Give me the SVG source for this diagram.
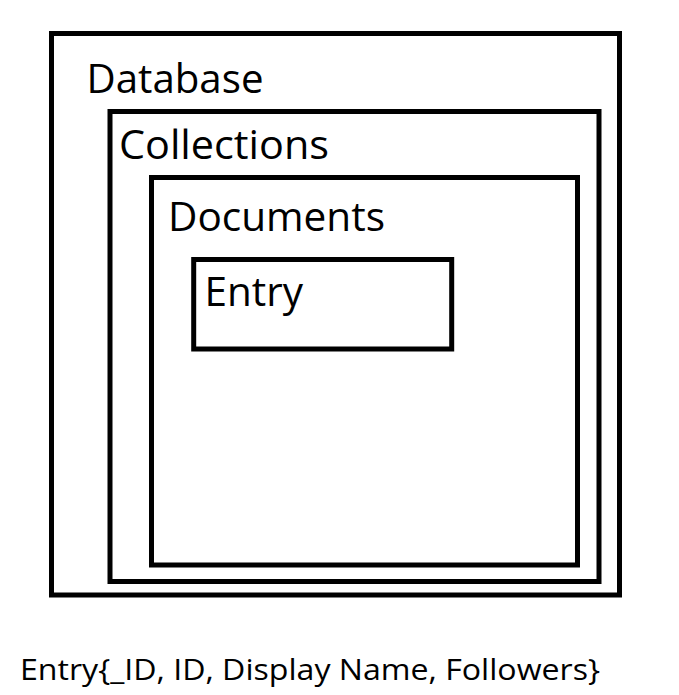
<svg xmlns="http://www.w3.org/2000/svg" width="679" height="695" viewBox="0 0 679 695">
<style>
.box{fill:none;stroke:#000;stroke-width:5}
.lbl{font-family:"Open Sans","Noto Sans","Liberation Sans",sans-serif;font-size:40px;fill:#000}
.note{font-family:"Open Sans","Noto Sans","Liberation Sans",sans-serif;font-size:30px;fill:#000}
</style>
<rect width="679" height="695" fill="#fff"/>
<g id="database">
<rect class="box" x="51.5" y="33.5" width="568" height="561.5"/>
<text class="lbl" x="86.5" y="92.7" textLength="177" lengthAdjust="spacingAndGlyphs">Database</text>
</g>
<g id="collections">
<rect class="box" x="110" y="111.5" width="489" height="470"/>
<text class="lbl" x="119" y="159.3" textLength="210" lengthAdjust="spacingAndGlyphs">Collections</text>
</g>
<g id="documents">
<rect class="box" x="151.5" y="177.5" width="426" height="387.5"/>
<text class="lbl" x="168" y="230.7" textLength="217" lengthAdjust="spacingAndGlyphs">Documents</text>
</g>
<g id="entry">
<rect class="box" x="193.7" y="259.5" width="258" height="89.5"/>
<text class="lbl" x="204.5" y="306" textLength="98.5" lengthAdjust="spacingAndGlyphs">Entry</text>
</g>
<g id="connectors"></g>
<text class="note" x="20" y="680" textLength="580" lengthAdjust="spacingAndGlyphs">Entry{_ID, ID, Display Name, Followers}</text>
</svg>
